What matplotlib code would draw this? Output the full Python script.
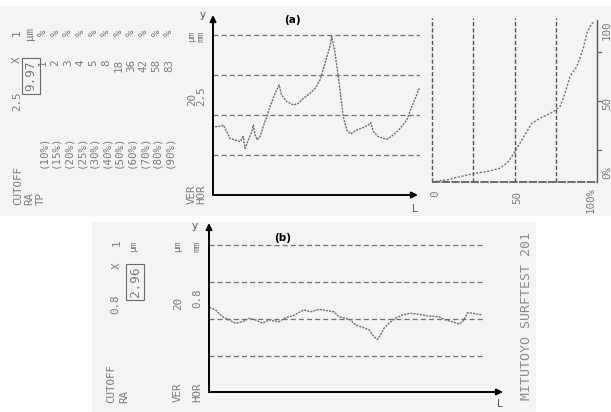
import matplotlib
matplotlib.use("Agg")
import matplotlib.pyplot as plt
from matplotlib.patches import Rectangle

# ---------------- data ----------------
# profile (a): L position (mm) and height (um)
prof_a_L = [0.13, 0.54, 0.64, 0.86, 1.06, 1.38, 1.69, 1.89, 2.00, 2.21, 2.42, 2.52, 2.63, 2.77,
            2.94, 3.14, 3.36, 3.56, 3.88, 4.13, 4.29, 4.61, 5.02, 5.33, 5.64, 6.06, 6.38, 6.69,
            7.00, 7.31, 7.42, 7.63, 7.89, 8.14, 8.36, 8.61, 8.98, 9.39, 9.71, 9.86, 10.02, 10.33,
            10.86, 11.27, 11.69, 12.11, 12.42, 12.73, 12.89]
prof_a_y = [-5.9, -5.5, -5.0, -8.3, -11.7, -12.5, -13.3, -10.8, -16.7, -12.5, -8.3, -5.0, -10.0,
            -12.5, -10.8, -5.8, -0.8, 4.2, 10.8, 15.0, 10.0, 6.7, 5.0, 5.8, 8.3, 10.8, 13.3, 17.5,
            25.8, 34.2, 39.2, 30.8, 15.8, -0.8, -7.5, -9.5, -7.5, -6.3, -5.0, -3.8, -8.3, -10.8,
            -12.2, -10.0, -6.7, -2.5, 4.2, 10.0, 13.3]

# bearing ratio curve: tp (%) vs level (%)
bear_tp = [0.0, 8.9, 17.0, 26.1, 33.2, 41.2, 46.2, 50.3, 53.3, 57.4, 60.4, 65.5, 69.5, 73.5,
           77.6, 80.6, 83.6, 87.7, 91.7, 93.8, 96.8, 98.8]
bear_lvl = [0.2, 1.2, 3.3, 5.4, 6.4, 8.5, 12.5, 18.7, 23.9, 31.0, 36.2, 39.3, 41.4, 43.4,
            46.5, 54.8, 65.0, 71.2, 82.5, 91.8, 97.9, 98.9]

# profile (b)
prof_b_L = [0.01, 0.13, 0.27, 0.40, 0.53, 0.67, 0.80, 0.93, 1.07, 1.20, 1.40, 1.53, 1.67, 1.77,
            1.90, 2.03, 2.20, 2.37, 2.50, 2.60, 2.73, 2.83, 2.93, 3.07, 3.20, 3.30, 3.37, 3.43,
            3.50, 3.60, 3.73, 3.87, 4.03, 4.20, 4.40, 4.60, 4.73, 4.87, 5.00, 5.07, 5.13, 5.17,
            5.27, 5.47]
prof_b_y = [6.3, 4.9, 1.2, -0.5, -2.3, -1.5, 0.4, -0.5, -2.3, -0.5, -1.5, 0.7, 1.6, 3.1,
            4.9, 3.9, 5.2, 4.5, 3.9, 1.2, 0.4, -0.5, -3.2, -4.5, -5.9, -9.6, -11.0, -8.6,
            -5.0, -2.3, 0.4, 2.2, 3.1, 2.5, 1.6, 1.2, -0.5, -1.5, -2.7, -1.5, 1.2, 3.4,
            3.1, 2.2]

grid_a = [-20, 0, 20, 40]
grid_b = [-20, 0, 20, 40]
grid_tp = [0, 25, 50, 75]

tp_levels = ["(10%)", "(15%)", "(20%)", "(25%)", "(30%)", "(40%)", "(50%)",
             "(60%)", "(70%)", "(80%)", "(90%)"]
tp_values = [1, 2, 3, 4, 5, 8, 18, 36, 42, 58, 83]

W, H = 611, 412
fig = plt.figure(figsize=(W / 100, H / 100), dpi=100)
fig.patch.set_facecolor("white")

def fx(x):
    return x / W

def fy(y):
    return 1 - y / H

def rect(x0, y0, x1, y1):
    return [fx(x0), fy(y1), fx(x1) - fx(x0), fy(y0) - fy(y1)]

# paper backgrounds
fig.patches.append(Rectangle((fx(0), fy(216)), 1, fy(6) - fy(216), transform=fig.transFigure,
                             fc="#f4f4f4", ec="none", zorder=-10))
fig.patches.append(Rectangle((fx(92), fy(412)), fx(536) - fx(92), fy(222) - fy(412),
                             transform=fig.transFigure, fc="#f4f4f4", ec="none", zorder=-10))

TXT = "#7c7c7c"
MONO = "DejaVu Sans Mono"
FS = 7.8

def vt(x, y, s, va="center", fs=FS, color=TXT, family=MONO, **kw):
    fig.text(fx(x), fy(y), s, rotation=90, ha="center", va=va, fontsize=fs,
             family=family, color=color, **kw)

def arrow_axes(ax, xend=1.0, yend=1.0):
    ax.annotate("", xy=(0, yend), xytext=(0, 0), xycoords="axes fraction",
                arrowprops=dict(arrowstyle="-|>", lw=1.4, color="black", mutation_scale=9,
                                shrinkA=0, shrinkB=0))
    ax.annotate("", xy=(xend, 0), xytext=(0, 0), xycoords="axes fraction",
                arrowprops=dict(arrowstyle="-|>", lw=1.4, color="black", mutation_scale=9,
                                shrinkA=0, shrinkB=0))

# ---------------- panel (a) profile ----------------
axa = fig.add_axes(rect(213, 15, 420, 195))
axa.set_xlim(0, (420 - 213) / 16)
axa.set_ylim(-40, 50)
axa.axis("off")
for g in grid_a:
    axa.axhline(g, color="#707070", lw=0.9, ls=(0, (4, 2.5)))
axa.plot(prof_a_L, prof_a_y, color="#6e6e6e", lw=1.0, ls=(0, (1.5, 0.8)))
arrow_axes(axa, xend=0.99)

# ---------------- bearing curve ----------------
axc = fig.add_axes(rect(432, 20, 597, 182))
axc.set_xlim(0, 100)
axc.set_ylim(0, 100)
axc.axis("off")
for g in grid_tp:
    axc.axvline(g, ymin=0, ymax=1.012, color="#555555", lw=1.0, ls=(0, (3, 1.5)), clip_on=False)
axc.axvline(100, ymin=0, ymax=1.0, color="#555555", lw=1.0, clip_on=False)
axc.axhline(0, color="#555555", lw=1.2, ls=(0, (5, 0.8)), clip_on=False)
for t in [20, 50, 80]:
    axc.plot([100, 102.5], [t, t], color="#666666", lw=0.9, clip_on=False)
axc.plot(bear_tp, bear_lvl, color="#707070", lw=1.0, ls=(0, (1.5, 1.2)))

# ---------------- panel (b) profile ----------------
axb = fig.add_axes(rect(209, 223, 503, 392))
axb.set_xlim(0, (503 - 209) / 50)
axb.set_ylim((319 - 392) / 1.85, (319 - 223) / 1.85)
axb.axis("off")
for g in grid_b:
    axb.axhline(g, xmin=0, xmax=(483 - 209) / (503 - 209), color="#707070", lw=0.9,
                ls=(0, (4, 2.5)))
axb.plot(prof_b_L, prof_b_y, color="#6e6e6e", lw=1.0, ls=(0, (1.5, 0.8)))
arrow_axes(axb, xend=1.0)

# ---------------- texts top ----------------
vt(18, 205, "CUTOFF", va="bottom")
vt(29, 205, "RA", va="bottom")
vt(41, 205, "TP", va="bottom")
for i, (lv, v) in enumerate(zip(tp_levels, tp_values)):
    x = 43 + 12.6 * i
    vt(x, 168, lv, va="bottom")
    vt(x, 59, str(v), va="top")
    vt(x, 33, "%")
vt(17, 111, "2.5", va="bottom")
vt(17, 60, "X")
vt(17, 33, "1")
vt(31, 76, "9.97", fs=9.2, bbox=dict(boxstyle="square,pad=0.2", fc="none", ec="#6a6a6a", lw=0.8))
vt(30, 34, "\u00b5m")
vt(192, 36, "\u00b5m", fs=6.8)
vt(201, 36, "mm", fs=6.8)
vt(192, 99, "20")
vt(201, 96, "2.5")
vt(192, 204, "VER", va="bottom")
vt(201, 204, "HOR", va="bottom")
fig.text(fx(203), fy(15), "y", ha="center", va="center", fontsize=7.5, color="#555555")
fig.text(fx(415), fy(209), "L", ha="center", va="center", fontsize=7.5, color="#555555")
fig.text(fx(292), fy(20), "(a)", ha="center", va="center", fontsize=7.5, fontweight="bold",
         color="black")

# bearing labels
vt(435, 194, "0")
vt(517, 198, "50")
vt(591, 213, "100%", va="bottom")
vt(607, 30, "100")
vt(607, 103, "50")
vt(607, 173, "0%")

# ---------------- texts bottom ----------------
vt(111, 403, "CUTOFF", va="bottom")
vt(124, 403, "RA", va="bottom")
vt(115, 314, "0.8", va="bottom")
vt(117, 266, "X")
vt(117, 243, "1")
vt(135, 282, "2.96", fs=9.2, bbox=dict(boxstyle="square,pad=0.2", fc="none", ec="#6a6a6a", lw=0.8))
vt(134, 246, "\u00b5m", fs=6.8)
vt(178, 246, "\u00b5m", fs=6.8)
vt(197, 246, "mm", fs=6.8)
vt(178, 303, "20")
vt(197, 298, "0.8")
vt(178, 402, "VER", va="bottom")
vt(197, 402, "HOR", va="bottom")
fig.text(fx(195), fy(226), "y", ha="center", va="center", fontsize=7.5, color="#555555")
fig.text(fx(500), fy(404), "L", ha="center", va="center", fontsize=7.5, color="#555555")
fig.text(fx(283), fy(238), "(b)", ha="center", va="center", fontsize=7.5, fontweight="bold",
         color="black")
vt(527, 400, "MITUTOYO SURFTEST 201", va="bottom", fs=9.5, color="#8c8c8c")

fig.savefig("out.png", dpi=100)
